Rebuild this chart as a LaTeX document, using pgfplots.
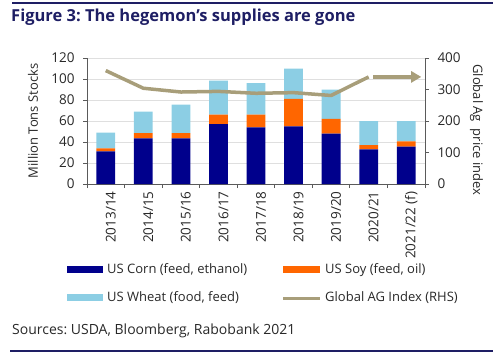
\documentclass[border=0pt]{standalone}
\usepackage{fontspec}
\setmainfont{Open Sans}
\usepackage{pgfplots}
\pgfplotsset{compat=1.18}
\usetikzlibrary{arrows.meta}
\definecolor{corn}{RGB}{0,0,140}
\definecolor{soy}{RGB}{255,102,0}
\definecolor{wheat}{RGB}{140,206,228}
\definecolor{agline}{RGB}{168,158,122}
\definecolor{navy}{RGB}{30,30,100}
\definecolor{txt}{RGB}{40,40,40}
\definecolor{axc}{RGB}{90,90,90}
\frenchspacing
\begin{document}
\begin{tikzpicture}[x=1bp,y=1bp]
\path[use as bounding box] (0,0) rectangle (500,362);
% top rule and title
\draw[navy, line width=1.5bp] (12,359) -- (493,359);
\node[anchor=west, inner sep=0, text=navy, font=\fontsize{16.5bp}{20bp}\selectfont\bfseries] at (11,345) {Figure 3: The hegemon’s supplies are gone};
\begin{axis}[
  at={(87bp,178bp)}, anchor=south west,
  width=338bp, height=126bp, scale only axis,
  xmin=-0.5, xmax=8.5, ymin=0, ymax=120,
  ytick={0,20,...,120},
  xtick={0,...,8},
  xticklabels={2013/14,2014/15,2015/16,2016/17,2017/18,2018/19,2019/20,2020/21,2021/22 (f)},
  minor xtick={-0.5,0.5,...,8.5},
  major x tick style={draw=none},
  minor tick length=4bp, major tick length=4bp,
  tick align=outside,
  axis x line*=bottom, axis y line*=left,
  axis line style={axc, line width=0.8bp},
  tick style={axc, line width=0.8bp},
  ymajorgrids, grid style={gray!25, line width=0.5bp},
  ybar stacked, bar width=0.5,
  /pgf/number format/assume math mode=true,
  ticklabel style={font=\fontsize{13.5bp}{15bp}\selectfont, text=txt},
  xticklabel style={rotate=90, anchor=east, yshift=-5bp},
  yticklabel style={xshift=-5bp},
  ylabel={Million Tons Stocks},
  ylabel style={at={(axis description cs:-0.16,0.5)}, anchor=center, font=\fontsize{13bp}{15bp}\selectfont, text=txt},
]
\addplot[fill=corn, draw=none] coordinates {(0,31) (1,43.5) (2,43.5) (3,57) (4,54) (5,55) (6,48) (7,33) (8,35.5)};
\addplot[fill=soy, draw=none] coordinates {(0,3) (1,5) (2,5) (3,9) (4,12) (5,26) (6,14) (7,4) (8,5)};
\addplot[fill=wheat, draw=none] coordinates {(0,15) (1,20.5) (2,27) (3,32.5) (4,30) (5,29) (6,28) (7,23) (8,19.5)};
\end{axis}
\begin{axis}[
  at={(87bp,178bp)}, anchor=south west,
  width=338bp, height=126bp, scale only axis,
  xmin=-0.5, xmax=8.5, ymin=0, ymax=400,
  ytick={0,100,...,400},
  axis x line=none, axis y line*=right,
  axis line style={axc, line width=0.8bp},
  tick style={axc, line width=0.8bp},
  major tick length=4bp, tick align=outside,
  /pgf/number format/assume math mode=true,
  ticklabel style={font=\fontsize{13.5bp}{15bp}\selectfont, text=txt},
  yticklabel style={xshift=5bp},
  ylabel={Global Ag\ \ price index},
  ylabel style={at={(axis description cs:1.152,0.43)}, anchor=center, rotate=180, font=\fontsize{13bp}{15bp}\selectfont, text=txt},
]
\addplot[agline, line width=3.5bp, line join=round] coordinates {(0,360) (1,304) (2,292) (3,294) (4,288) (5,290) (6,281) (7,340)};
\addplot[agline, line width=3.5bp, -{Triangle[length=10bp,width=11bp]}] coordinates {(7.12,340) (8.4,340)};
\end{axis}
% legend
\fill[corn] (67,89) rectangle (103,96);
\node[anchor=west, inner sep=0, text=txt, font=\fontsize{13bp}{15bp}\selectfont] at (107,92) {US Corn (feed, ethanol)};
\fill[soy] (283,89) rectangle (320,96);
\node[anchor=west, inner sep=0, text=txt, font=\fontsize{13bp}{15bp}\selectfont] at (325,92) {US Soy (feed, oil)};
\fill[wheat] (67,61) rectangle (103,68);
\node[anchor=west, inner sep=0, text=txt, font=\fontsize{13bp}{15bp}\selectfont] at (107,64) {US Wheat (food, feed)};
\draw[agline, line width=3bp] (283,64) -- (320,64);
\node[anchor=west, inner sep=0, text=txt, font=\fontsize{13bp}{15bp}\selectfont] at (325,64) {Global AG Index (RHS)};
% sources and bottom rule
\node[anchor=west, inner sep=0, text=txt, font=\fontsize{14bp}{16bp}\selectfont] at (12,31) {Sources: USDA, Bloomberg, Rabobank 2021};
\draw[navy, line width=1.5bp] (10,11) -- (493,11);
\end{tikzpicture}
\end{document}
